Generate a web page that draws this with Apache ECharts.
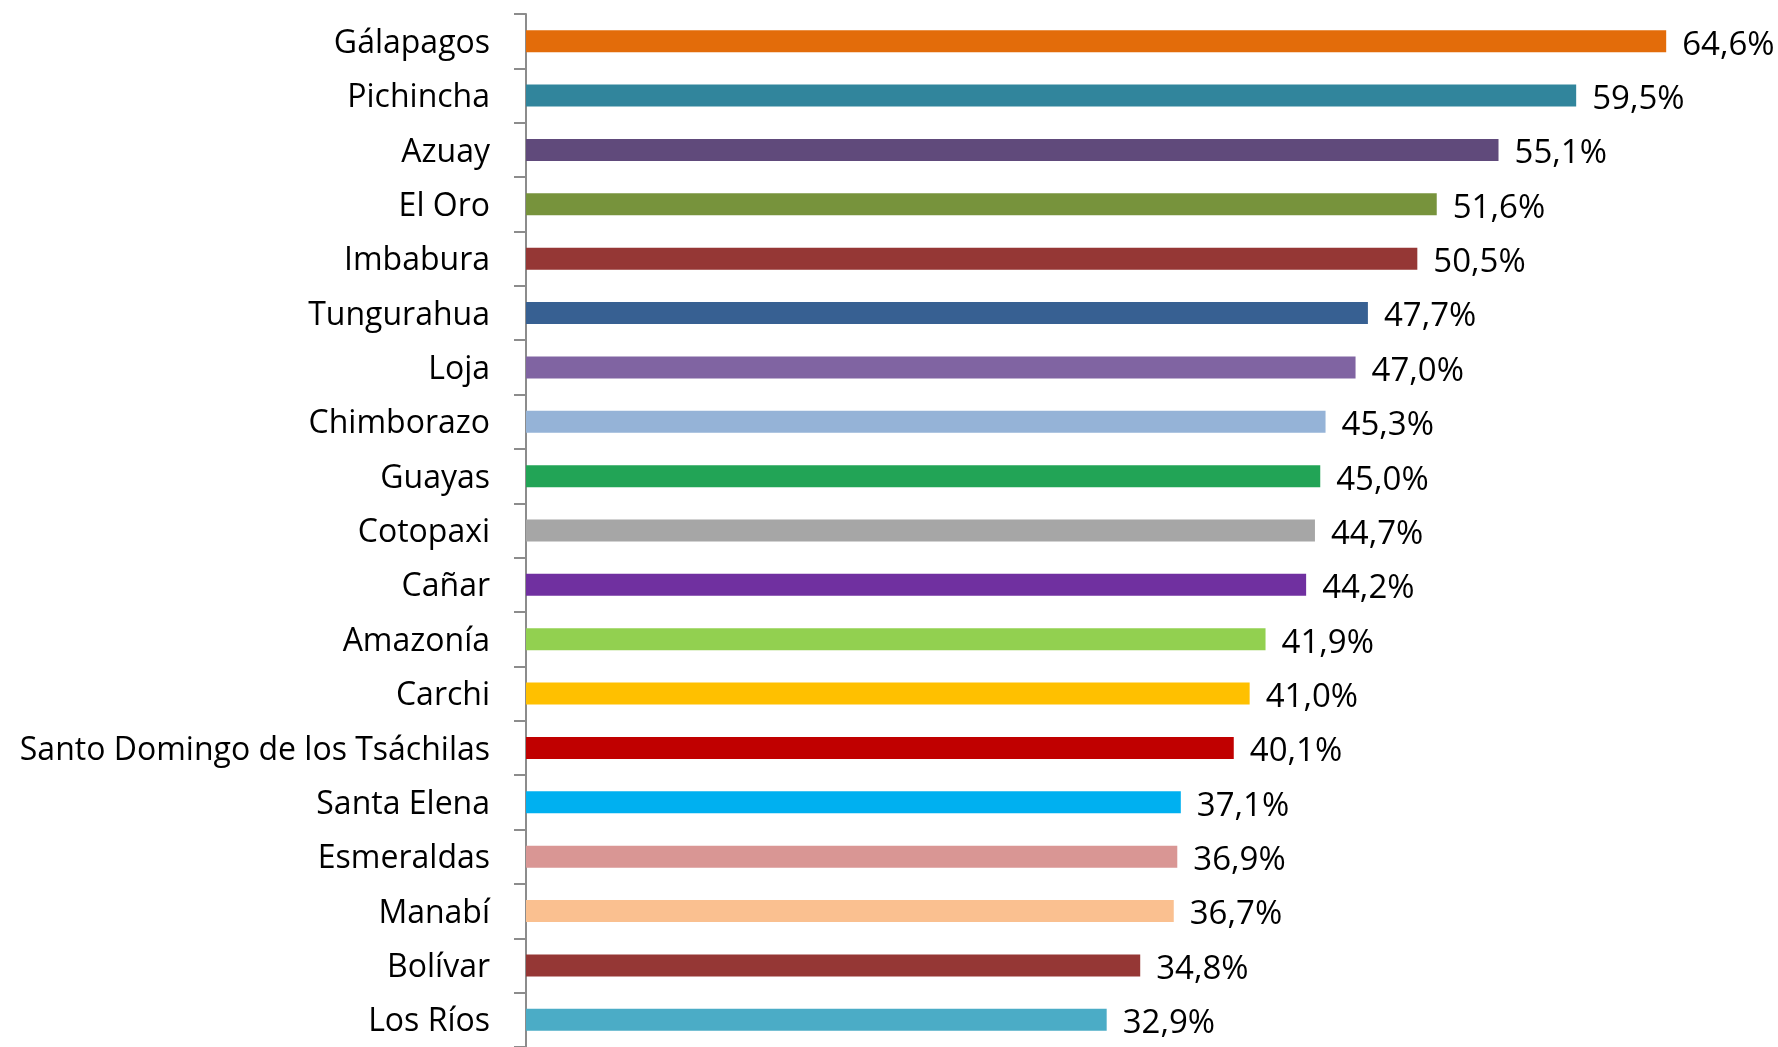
<!DOCTYPE html>
<html>
<head>
<meta charset="utf-8">
<script src="https://cdn.jsdelivr.net/npm/echarts@6/dist/echarts.min.js"></script>
<style>
html,body{margin:0;padding:0;background:#fff;}
#chart{width:1778px;height:1047px;}
</style>
</head>
<body>
<div id="chart"></div>
<script>
const categories = ["Gálapagos","Pichincha","Azuay","El Oro","Imbabura","Tungurahua","Loja","Chimborazo","Guayas","Cotopaxi","Cañar","Amazonía","Carchi","Santo Domingo de los Tsáchilas","Santa Elena","Esmeraldas","Manabí","Bolívar","Los Ríos"];
const values = [64.6,59.5,55.1,51.6,50.5,47.7,47.0,45.3,45.0,44.7,44.2,41.9,41.0,40.1,37.1,36.9,36.7,34.8,32.9];
const colors = ["#E36C0A","#31859C","#604A7B","#77933C","#953735","#376092","#8064A2","#95B3D7","#22A456","#A6A6A6","#7030A0","#92D050","#FFC000","#C00000","#00B0F0","#D99694","#FAC090","#953735","#4BACC6"];

const FONT = "Open Sans";
const chart = echarts.init(document.getElementById('chart'));
chart.setOption({
  animation: false,
  grid: {left: 526, top: 14, width: 1235.5, height: 1038.7, containLabel: false},
  xAxis: {
    type: 'value', min: 0, max: 70,
    show: false
  },
  yAxis: {
    type: 'category', data: categories, inverse: true,
    axisLine: {show: true, lineStyle: {color: '#8C8C8C', width: 2}},
    axisTick: {show: true, length: 12, lineStyle: {color: '#8C8C8C', width: 2}},
    axisLabel: {
      margin: 36, color: '#000', fontFamily: FONT, fontSize: 32,
      formatter: v => '{a|' + v + '}',
      rich: {a: {color: '#000', fontFamily: FONT, fontSize: 32, padding: [5, 0, 0, 0]}}
    },
    splitLine: {show: false}
  },
  series: [{
    type: 'bar',
    barWidth: 22,
    data: values.map((v, i) => ({value: v, itemStyle: {color: colors[i]}})),
    label: {
      show: true, position: 'right', distance: 16, offset: [0, 4],
      color: '#000', fontFamily: FONT, fontSize: 33,
      formatter: p => p.value.toFixed(1).replace('.', ',') + '%'
    }
  }]
});
</script>
</body>
</html>
